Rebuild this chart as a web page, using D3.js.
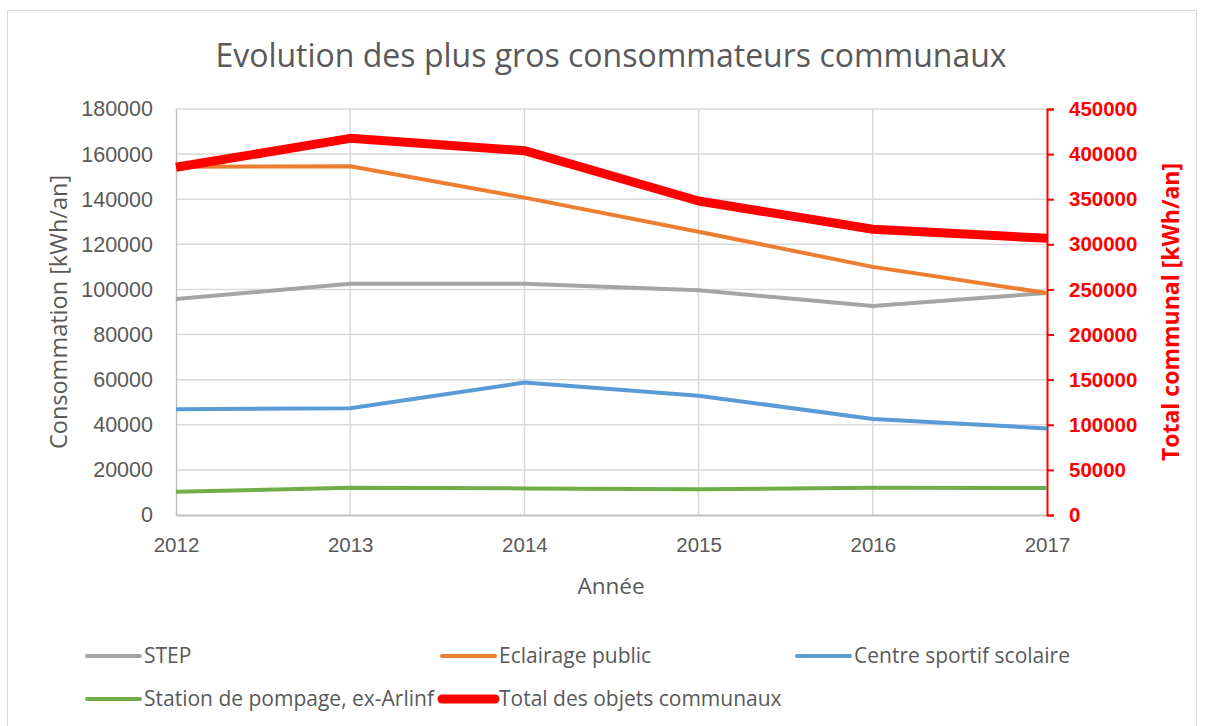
<!DOCTYPE html>
<html>
<head>
<meta charset="utf-8">
<script src="https://cdn.jsdelivr.net/npm/d3@7"></script>
<style>
  body { margin: 0; background: #fff; }
  svg { font-family: "Open Sans", sans-serif; }
</style>
</head>
<body>
<svg id="chart" width="1206" height="726"></svg>
<script>
// data
var years = [2012, 2013, 2014, 2015, 2016, 2017];
var step = [95800, 102500, 102500, 99600, 92700, 98400];
var eclairage = [154400, 154600, 140700, 125600, 110000, 98400];
var centreSportif = [46900, 47300, 58700, 52900, 42600, 38400];
var stationPompage = [10300, 12100, 11800, 11400, 12100, 12000];
var totalCommunal = [385400, 417500, 403800, 348000, 316700, 306700];

var leftTicks = [0, 20000, 40000, 60000, 80000, 100000, 120000, 140000, 160000, 180000];
var rightTicks = [0, 50000, 100000, 150000, 200000, 250000, 300000, 350000, 400000, 450000];

var series = [
    { name: 'STEP', values: step, color: '#a5a5a5', width: 4, axis: 'left' },
    { name: 'Eclairage public', values: eclairage, color: '#ed7d31', width: 4, axis: 'left' },
    { name: 'Centre sportif scolaire', values: centreSportif, color: '#5b9bd5', width: 4, axis: 'left' },
    { name: 'Station de pompage, ex-Arlinf', values: stationPompage, color: '#70ad47', width: 4, axis: 'left' },
    { name: 'Total des objets communaux', values: totalCommunal, color: '#ff0000', width: 9, axis: 'right' }
];

var svg = d3.select('#chart');
var textColor = '#595959';

// outer frame
svg.append('rect')
    .attr('x', 7.5).attr('y', 10.5)
    .attr('width', 1189).attr('height', 730)
    .attr('fill', 'none').attr('stroke', '#d9d9d9');

var plot = { left: 176, right: 1047, top: 109, bottom: 515 };

var x = d3.scalePoint().domain(years).range([plot.left, plot.right]);
var yLeft = d3.scaleLinear().domain([0, 180000]).range([plot.bottom, plot.top]);
var yRight = d3.scaleLinear().domain([0, 450000]).range([plot.bottom, plot.top]);

// gridlines
svg.append('g').selectAll('line.h')
    .data(leftTicks.slice(1)).enter().append('line')
    .attr('x1', plot.left).attr('x2', plot.right)
    .attr('y1', function(d) { return yLeft(d); })
    .attr('y2', function(d) { return yLeft(d); })
    .attr('stroke', '#d9d9d9').attr('stroke-width', 1.5);

svg.append('g').selectAll('line.v')
    .data(years.slice(1, -1)).enter().append('line')
    .attr('x1', function(d) { return x(d); })
    .attr('x2', function(d) { return x(d); })
    .attr('y1', plot.top).attr('y2', plot.bottom)
    .attr('stroke', '#d9d9d9').attr('stroke-width', 1.5);

// left axis
var leftAxis = svg.append('g')
    .attr('transform', 'translate(' + plot.left + ',0)')
    .call(d3.axisLeft(yLeft).tickValues(leftTicks).tickSize(0).tickPadding(23).tickFormat(d3.format('d')));
leftAxis.select('.domain').attr('stroke', '#bfbfbf').attr('stroke-width', 1.5);
leftAxis.selectAll('text').attr('fill', textColor).style('font-size', '21.5px');

// bottom axis
var bottomAxis = svg.append('g')
    .attr('transform', 'translate(0,' + plot.bottom + ')')
    .call(d3.axisBottom(x).tickSize(0).tickPadding(22).tickFormat(d3.format('d')));
bottomAxis.select('.domain').attr('stroke', '#bfbfbf').attr('stroke-width', 2);
bottomAxis.selectAll('text').attr('fill', textColor).style('font-size', '20.5px');

// right axis
var rightAxis = svg.append('g')
    .attr('transform', 'translate(' + plot.right + ',0)')
    .call(d3.axisRight(yRight).tickValues(rightTicks).tickSizeInner(7).tickSizeOuter(7).tickPadding(15).tickFormat(d3.format('d')));
rightAxis.select('.domain').attr('stroke', '#ff0000').attr('stroke-width', 2);
rightAxis.selectAll('.tick line').attr('stroke', '#ff0000').attr('stroke-width', 2);
rightAxis.selectAll('text').attr('fill', '#ff0000').style('font-size', '20.5px').style('font-weight', 'bold');

// lines
var lineLeft = d3.line().x(function(d, i) { return x(years[i]); }).y(function(d) { return yLeft(d); });
var lineRight = d3.line().x(function(d, i) { return x(years[i]); }).y(function(d) { return yRight(d); });

svg.append('g').selectAll('path.series')
    .data(series).enter().append('path')
    .attr('fill', 'none')
    .attr('stroke', function(d) { return d.color; })
    .attr('stroke-width', function(d) { return d.width; })
    .attr('stroke-linejoin', 'round')
    .attr('d', function(d) { return d.axis === 'left' ? lineLeft(d.values) : lineRight(d.values); });

// titles
svg.append('text')
    .attr('x', 611).attr('y', 67)
    .attr('text-anchor', 'middle')
    .attr('fill', textColor)
    .style('font-size', '32px')
    .text('Evolution des plus gros consommateurs communaux');

svg.append('text')
    .attr('x', 611).attr('y', 594)
    .attr('text-anchor', 'middle')
    .attr('fill', textColor)
    .style('font-size', '22.5px')
    .text('Année');

svg.append('text')
    .attr('transform', 'translate(67,312) rotate(-90)')
    .attr('text-anchor', 'middle')
    .attr('fill', textColor)
    .style('font-size', '23.5px')
    .text('Consommation [kWh/an]');

svg.append('text')
    .attr('transform', 'translate(1179,312) rotate(-90)')
    .attr('text-anchor', 'middle')
    .attr('fill', '#ff0000')
    .style('font-size', '23px')
    .style('font-weight', 'bold')
    .text('Total communal [kWh/an]');

// legend
var legendPos = [[87, 656], [442, 656], [797, 656], [87, 699], [442, 699]];
var legend = svg.append('g').selectAll('g.item')
    .data(series).enter().append('g')
    .attr('transform', function(d, i) { return 'translate(' + legendPos[i][0] + ',' + legendPos[i][1] + ')'; });

legend.append('line')
    .attr('x1', 0).attr('x2', 53)
    .attr('stroke', function(d) { return d.color; })
    .attr('stroke-width', function(d) { return d.width; })
    .attr('stroke-linecap', 'round');

legend.append('text')
    .attr('x', 57).attr('dy', '0.35em')
    .attr('fill', textColor)
    .style('font-size', '21px')
    .text(function(d) { return d.name; });
</script>
</body>
</html>
